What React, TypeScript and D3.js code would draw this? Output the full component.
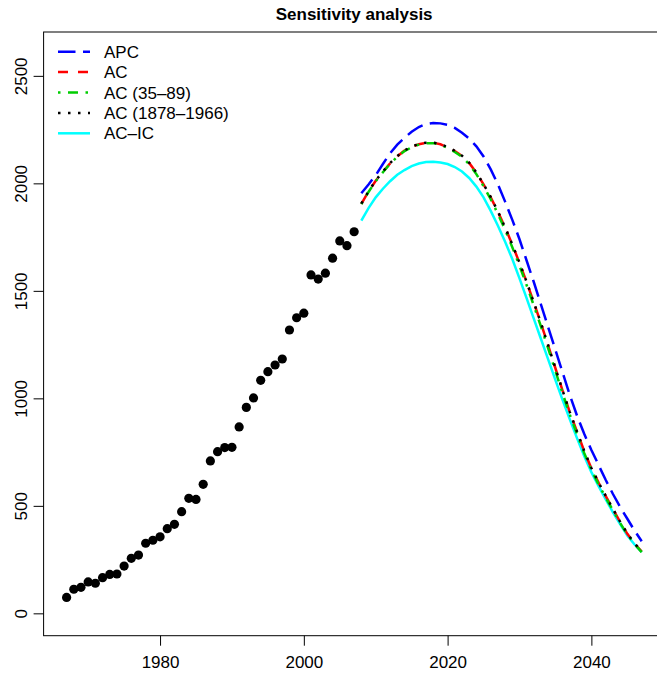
import React, { useRef, useEffect } from 'react';
import * as d3 from 'd3';

// observed counts
const obsYears = [1967, 1968, 1969, 1970, 1971, 1972, 1973, 1974, 1975, 1976, 1977, 1978, 1979, 1980,
  1981, 1982, 1983, 1984, 1985, 1986, 1987, 1988, 1989, 1990, 1991, 1992, 1993, 1994, 1995, 1996,
  1997, 1998, 1999, 2000, 2001, 2002, 2003, 2004, 2005, 2006, 2007];
const observed = [74, 112, 121, 146, 140, 166, 181, 183, 220, 256, 271, 326, 340, 356,
  394, 414, 473, 535, 530, 600, 709, 752, 771, 772, 867, 958, 1002, 1084, 1124, 1155,
  1183, 1318, 1375, 1396, 1574, 1555, 1582, 1652, 1732, 1710, 1775];

// projections
const projYears = [2008, 2009, 2010, 2011, 2012, 2013, 2014, 2015, 2016, 2017, 2018, 2019, 2020,
  2021, 2022, 2023, 2024, 2025, 2026, 2027, 2028, 2029, 2030, 2031, 2032, 2033, 2034, 2035, 2036,
  2037, 2038, 2039, 2040, 2041, 2042, 2043, 2044, 2045, 2046, 2047];
const apc = [1954, 1995, 2038, 2090, 2140, 2180, 2212, 2240, 2262, 2276, 2281, 2279, 2272,
  2258, 2235, 2208, 2172, 2125, 2065, 1995, 1915, 1830, 1740, 1640, 1540, 1435, 1330, 1225, 1120,
  1015, 920, 835, 760, 690, 620, 555, 495, 440, 385, 335];
const ac = [1905, 1962, 2012, 2054, 2093, 2126, 2152, 2170, 2182, 2188, 2189, 2182, 2168,
  2150, 2128, 2095, 2050, 1995, 1935, 1868, 1795, 1715, 1630, 1540, 1445, 1348, 1245, 1140, 1035,
  935, 845, 755, 675, 608, 545, 485, 425, 370, 325, 287];
const ac3589 = [1903, 1960, 2010, 2052, 2091, 2124, 2150, 2168, 2180, 2186, 2187, 2180, 2165,
  2146, 2123, 2089, 2043, 1987, 1926, 1858, 1784, 1703, 1617, 1526, 1431, 1333, 1231, 1127, 1023,
  924, 834, 746, 667, 600, 538, 479, 420, 366, 322, 285];
const ac1878 = [1906, 1963, 2013, 2055, 2094, 2127, 2153, 2171, 2183, 2189, 2190, 2183, 2169,
  2151, 2129, 2096, 2051, 1996, 1936, 1869, 1796, 1716, 1631, 1541, 1446, 1349, 1246, 1141, 1036,
  936, 846, 756, 676, 609, 546, 486, 426, 371, 326, 289];
const acic = [1827, 1885, 1935, 1975, 2010, 2040, 2062, 2080, 2092, 2099, 2101, 2097, 2090,
  2076, 2055, 2025, 1985, 1935, 1872, 1803, 1728, 1648, 1558, 1465, 1370, 1275, 1180, 1085, 992,
  902, 815, 732, 657, 592, 530, 470, 415, 362, 320, 285];

const xTicks = [1980, 2000, 2020, 2040];
const yTicks = [0, 500, 1000, 1500, 2000, 2500];

const seriesNames = ['APC', 'AC', 'AC (35\u201389)', 'AC (1878\u20131966)', 'AC\u2013IC'];
const seriesColors = ['#0000ff', '#ff0000', '#00cd00', '#000000', '#00ffff'];
const seriesDash = ['17.5 7.5', '10 10', '2.5 7.5 10 7.5', '2.5 7.5', null];

const FONT = '"Liberation Sans", Arial, Helvetica, sans-serif';

function App() {
  const svgRef = useRef(null);

  useEffect(() => {
    const W = 657, H = 673;
    // plot region runs past the right edge of the picture (cropped)
    const left = 43.6, right = 664.7, top = 32, bottom = 635.7;

    d3.select(svgRef.current).selectAll('*').remove();
    const svg = d3.select(svgRef.current)
      .attr('width', W)
      .attr('height', H);

    const x = d3.scaleLinear().domain([1963.8, 2050.2]).range([left, right]);
    const y = d3.scaleLinear().domain([-104, 2704]).range([bottom, top]);

    // box
    svg.append('rect')
      .attr('x', left).attr('y', top)
      .attr('width', right - left).attr('height', bottom - top)
      .attr('fill', 'none').attr('stroke', '#000').attr('stroke-width', 1);

    // x axis
    const xAxis = svg.append('g')
      .attr('transform', `translate(0,${bottom})`)
      .call(d3.axisBottom(x).tickValues(xTicks).tickSize(10).tickPadding(10).tickFormat(d3.format('d')));
    xAxis.select('.domain').remove();
    xAxis.selectAll('text').style('font-family', FONT).style('font-size', '17px').attr('fill', '#000');

    // y axis
    const yAxis = svg.append('g')
      .attr('transform', `translate(${left},0)`)
      .call(d3.axisLeft(y).tickValues(yTicks).tickSize(10).tickFormat(d3.format('d')));
    yAxis.select('.domain').remove();
    yAxis.selectAll('text').remove();
    yAxis.selectAll('.tick')
      .append('text')
      .attr('transform', 'translate(-17,0) rotate(-90)')
      .attr('text-anchor', 'middle')
      .attr('fill', '#000')
      .style('font-family', FONT)
      .style('font-size', '17px')
      .text(d => d);

    // projection lines
    const allSeries = [apc, ac, ac3589, ac1878, acic];
    const line = d3.line()
      .x(d => x(d[0]))
      .y(d => y(d[1]));

    const drawOrder = [4, 0, 1, 2, 3];
    drawOrder.forEach(i => {
      const pts = projYears.map((yr, j) => [yr, allSeries[i][j]]);
      svg.append('path')
        .datum(pts)
        .attr('fill', 'none')
        .attr('stroke', seriesColors[i])
        .attr('stroke-width', 2.5)
        .attr('stroke-dasharray', seriesDash[i])
        .attr('d', line);
    });

    // observed points
    svg.selectAll('.dot')
      .data(obsYears.map((yr, j) => [yr, observed[j]]))
      .enter().append('circle')
      .attr('class', 'dot')
      .attr('cx', d => x(d[0]))
      .attr('cy', d => y(d[1]))
      .attr('r', 4.6)
      .attr('fill', '#000');

    // legend
    const legend = svg.append('g');
    seriesNames.forEach((name, i) => {
      const ly = 51.7 + i * 20.4;
      legend.append('line')
        .attr('x1', 58).attr('x2', 90)
        .attr('y1', ly).attr('y2', ly)
        .attr('stroke', seriesColors[i])
        .attr('stroke-width', 2.5)
        .attr('stroke-dasharray', seriesDash[i]);
      legend.append('text')
        .attr('x', 104)
        .attr('y', ly + 6)
        .style('font-family', FONT)
        .style('font-size', '17px')
        .text(name);
    });

    // title
    svg.append('text')
      .attr('x', (left + right) / 2)
      .attr('y', 20)
      .attr('text-anchor', 'middle')
      .style('font-family', FONT)
      .style('font-size', '17px')
      .style('font-weight', 'bold')
      .text('Sensitivity analysis');
  }, []);

  return (
    <div style={{ position: 'absolute', left: 0, top: 0, background: '#fff' }}>
      <svg ref={svgRef} style={{ display: 'block' }}></svg>
    </div>
  );
}

export default App;
